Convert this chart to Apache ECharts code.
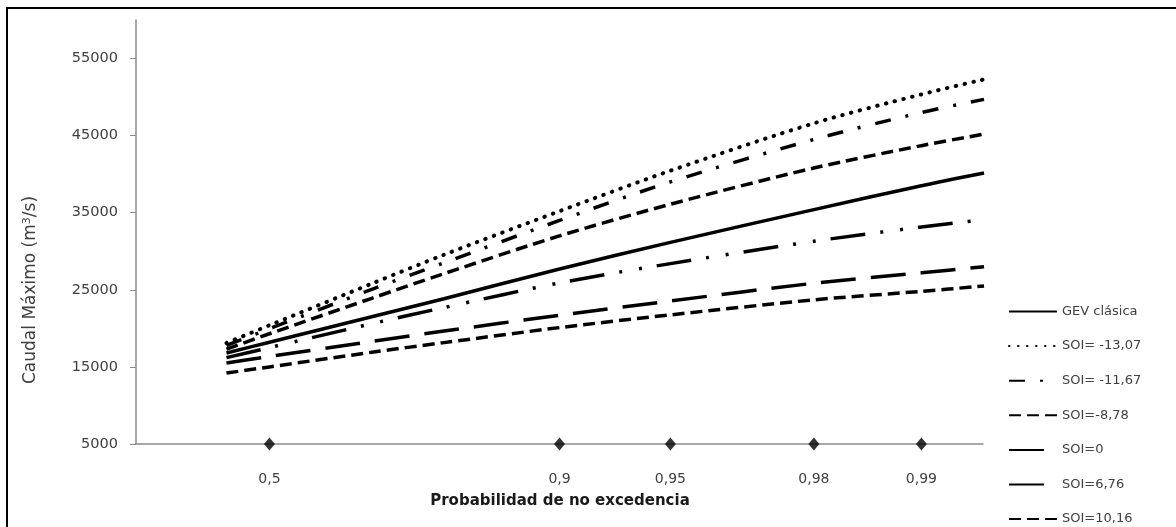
<!DOCTYPE html>
<html>
<head>
<meta charset="utf-8">
<script src="https://cdn.jsdelivr.net/npm/echarts@6/dist/echarts.min.js"></script>
<style>html,body{margin:0;padding:0;background:#fff;}#c{width:1176px;height:527px;}</style>
</head>
<body>
<div id="c"></div>
<script>
// Non-exceedance probabilities of the plotted points
const probabilities = [0.4, 0.5, 0.7, 0.8, 0.9, 0.95, 0.98, 0.99, 0.99333];
// Series values (m3/s)
const gevClasica = [16800, 18200, 21500, 23850, 27700, 31150, 35400, 38500, 40150];
const soiM1307 = [18100, 20400, 25800, 29550, 35200, 40450, 46600, 50350, 52300];
const soiM1167 = [17800, 19950, 25050, 28500, 34000, 39000, 44500, 48000, 49700];
const soiM878 = [17300, 19300, 23900, 27100, 32000, 36100, 40800, 43700, 45200];
const soi0 = [16200, 17500, 20600, 22700, 25900, 28400, 31300, 33150, 34100];
const soi676 = [15500, 16350, 18300, 19650, 21700, 23550, 25850, 27200, 28000];
const soi1016 = [14200, 15000, 16900, 18150, 20100, 21750, 23700, 24800, 25500];
const seriesNames = ['GEV clásica', 'SOI= -13,07', 'SOI= -11,67', 'SOI=-8,78', 'SOI=0', 'SOI=6,76', 'SOI=10,16'];
// Probability tick marks on the x axis
const tickProbabilities = [0.5, 0.9, 0.95, 0.98, 0.99];
const tickLabels = ['0,5', '0,9', '0,95', '0,98', '0,99'];
const yTicks = [5000, 15000, 25000, 35000, 45000, 55000];

// Gumbel reduced variate (probability paper axis transform)
const gumbel = p => -Math.log(-Math.log(p));
const tickX = tickProbabilities.map(gumbel);

const styles = [
  {type: 'solid', cap: 'butt', width: 3.5},
  {type: [0.5, 8.5], cap: 'round', width: 4},
  {type: [16, 15, 3, 15], cap: 'butt', width: 3.5},
  {type: [12, 6], cap: 'butt', width: 3.5},
  {type: [35, 15, 3, 17, 3, 15], cap: 'butt', width: 3.5},
  {type: [35, 15], cap: 'butt', width: 3.5},
  {type: [12, 6], cap: 'butt', width: 3.5}
];
const allValues = [gevClasica, soiM1307, soiM1167, soiM878, soi0, soi676, soi1016];

const series = allValues.map((vals, i) => ({
  name: seriesNames[i],
  type: 'line',
  symbol: 'none',
  showSymbol: false,
  smooth: 0.3,
  data: vals.map((v, j) => [gumbel(probabilities[j]), v]),
  lineStyle: {color: '#000', width: styles[i].width, type: styles[i].type, cap: styles[i].cap},
  itemStyle: {color: '#000'},
  z: 3
}));
series.push({
  name: 'ticks',
  type: 'scatter',
  symbol: 'diamond',
  symbolSize: [11, 13],
  itemStyle: {color: '#000'},
  data: tickX.map(x => [x, 5000]),
  z: 5
});

const chart = echarts.init(document.getElementById('c'));
chart.setOption({
  animation: false,
  backgroundColor: '#fff',
  grid: {left: 136, right: 193, top: 20, bottom: 83, containLabel: false},
  xAxis: {
    type: 'value', min: -0.5, max: 5,
    axisLine: {show: true, onZero: false, lineStyle: {color: '#8c8c8c', width: 1.5}},
    axisTick: {show: false},
    splitLine: {show: false},
    axisLabel: {
      show: true,
      customValues: tickX,
      margin: 28,
      fontFamily: 'DejaVu Sans', fontSize: 14, color: '#404040',
      formatter: function (v) {
        let best = 0, d = Infinity;
        tickX.forEach((t, k) => { if (Math.abs(t - v) < d) { d = Math.abs(t - v); best = k; } });
        return tickLabels[best];
      }
    }
  },
  yAxis: {
    type: 'value', min: 5000, max: 60000,
    axisLine: {show: true, onZero: false, lineStyle: {color: '#8c8c8c', width: 1.5}},
    axisTick: {show: true, length: 6, customValues: yTicks, lineStyle: {color: '#8c8c8c'}},
    splitLine: {show: false},
    axisLabel: {customValues: yTicks, margin: 18, fontFamily: 'DejaVu Sans', fontSize: 14.5, color: '#404040',
      formatter: v => String(v)}
  },
  legend: {
    orient: 'vertical',
    left: 1008, top: 305, height: 260,
    padding: 0,
    itemWidth: 48, itemHeight: 14, itemGap: 21.6,
    data: seriesNames,
    itemStyle: {opacity: 0},
    textStyle: {fontFamily: 'DejaVu Sans', fontSize: 13, color: '#404040'}
  },
  graphic: [
    {type: 'rect', shape: {x: 7, y: 8, width: 1175, height: 525}, style: {fill: 'none', stroke: '#000', lineWidth: 2}, silent: true},
    {type: 'text', x: 31, y: 290, rotation: Math.PI / 2,
     style: {text: 'Caudal Máximo (m{sup|3}/s)', fontFamily: 'DejaVu Sans', fontSize: 17, fill: '#404040', align: 'center', verticalAlign: 'middle',
       rich: {sup: {fontSize: 11, verticalAlign: 'top', padding: [0, 0, 8, 0], fill: '#404040', fontFamily: 'DejaVu Sans'}}}},
    {type: 'text', x: 560, y: 501,
     style: {text: 'Probabilidad de no excedencia', fontFamily: 'DejaVu Sans', fontWeight: 'bold', fontSize: 15, fill: '#1a1a1a', align: 'center', verticalAlign: 'middle'}}
  ],
  series: series
});
</script>
</body>
</html>
